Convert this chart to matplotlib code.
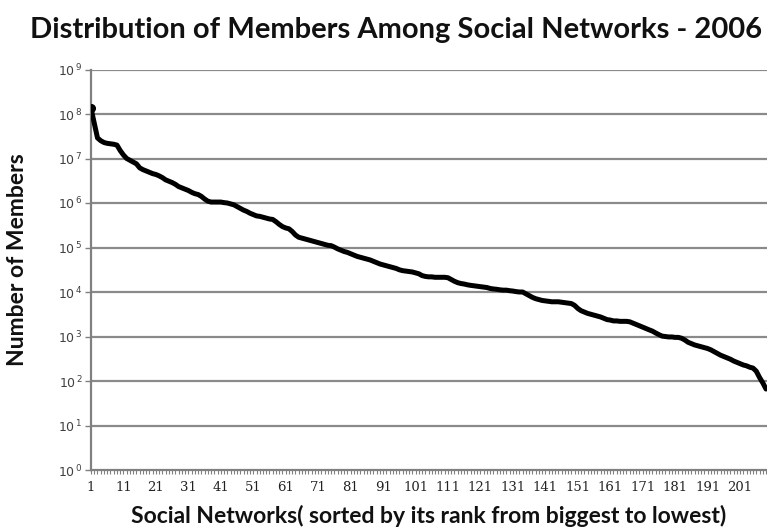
import matplotlib
matplotlib.use("Agg")
import matplotlib.pyplot as plt
from matplotlib.ticker import FixedLocator, FixedFormatter, NullFormatter

# Data: members of each social network, ranked from biggest to lowest (2006)
ranks = list(range(1, 210))
members = [
    135000000, 63000000, 29000000, 25100000, 22900000, 21900000, 21400000, 20900000, 20000000, 15100000,
    12000000, 10000000, 9120000, 8320000, 7590000, 6170000, 5620000, 5250000, 4900000, 4570000,
    4370000, 4070000, 3720000, 3310000, 3090000, 2880000, 2630000, 2340000, 2190000, 2040000,
    1910000, 1740000, 1620000, 1550000, 1410000, 1230000, 1100000, 1050000, 1050000, 1050000,
    1050000, 1020000, 1000000, 955000, 912000, 832000, 759000, 692000, 646000, 589000,
    550000, 513000, 501000, 479000, 457000, 437000, 427000, 380000, 331000, 295000,
    275000, 263000, 229000, 191000, 170000, 162000, 155000, 148000, 141000, 135000,
    129000, 123000, 117000, 112000, 110000, 102000, 93300, 87100, 81300, 77600,
    72400, 67600, 63100, 60300, 57500, 55000, 52500, 49000, 45700, 42700,
    40700, 38900, 37200, 35500, 33900, 31600, 30200, 29500, 28800, 28200,
    26900, 25700, 23400, 22400, 21900, 21900, 21400, 21400, 21400, 21400,
    20900, 19100, 17400, 16200, 15500, 15100, 14500, 14100, 13800, 13500,
    13200, 12900, 12600, 12000, 11700, 11500, 11200, 11000, 11000, 10700,
    10500, 10200, 10000, 10000, 9120, 8320, 7590, 7080, 6760, 6460,
    6310, 6170, 6030, 6030, 6030, 5890, 5750, 5620, 5500, 5010,
    4270, 3800, 3550, 3310, 3160, 3020, 2880, 2750, 2570, 2400,
    2340, 2240, 2240, 2190, 2190, 2190, 2140, 2000, 1860, 1740,
    1620, 1510, 1410, 1320, 1200, 1100, 1020, 1000, 977, 977,
    955, 955, 912, 832, 741, 692, 646, 617, 589, 562,
    537, 501, 457, 417, 380, 355, 331, 309, 282, 263,
    245, 229, 219, 204, 195, 166, 120, 91, 66,
]
x_tick_labels = [str(v) for v in range(1, 202, 10)]
y_exponents = list(range(0, 10))

title = "Distribution of Members Among Social Networks - 2006"
xlabel = "Social Networks( sorted by its rank from biggest to lowest)"
ylabel = "Number of Members"

W, H = 767, 529
fig = plt.figure(figsize=(W / 100, H / 100), dpi=100)
fig.patch.set_facecolor("white")

left, right, top, bottom = 91, 767, 69.5, 470
ax = fig.add_axes([left / W, 1 - bottom / H, (right - left) / W, (bottom - top) / H])

ax.plot(ranks, members, color="black", linewidth=3.6, solid_capstyle="round",
        solid_joinstyle="round", zorder=3)
ax.plot(ranks[0], members[0], "o", color="black", markersize=5.5, zorder=4)

ax.set_yscale("log")
ax.set_ylim(1, 1e9)
ax.set_xlim(1, 209.3)

# y ticks
yt = [10.0 ** e for e in y_exponents]
ax.yaxis.set_major_locator(FixedLocator(yt))
ax.yaxis.set_major_formatter(FixedFormatter(["10$^{\\,%d}$" % e for e in y_exponents]))
ax.yaxis.set_minor_locator(FixedLocator([]))
ax.yaxis.set_minor_formatter(NullFormatter())
ax.tick_params(axis="y", which="major", direction="out", length=4, width=1,
               color="#808080", labelsize=9, labelcolor="#404040", pad=2)

# x ticks
ax.xaxis.set_major_locator(FixedLocator(list(range(1, 202, 10))))
ax.xaxis.set_major_formatter(FixedFormatter(x_tick_labels))
ax.xaxis.set_minor_locator(FixedLocator(ranks))
ax.tick_params(axis="x", which="both", direction="out", length=3, width=0.8,
               color="#808080", labelsize=9.5, labelcolor="#222222", pad=5)
for lab in ax.get_xticklabels():
    lab.set_fontfamily("DejaVu Serif")

# grid
for e in y_exponents[1:]:
    ax.axhline(10.0 ** e, color="#8a8a8a", linewidth=1.6, zorder=1)

for s in ["top", "right"]:
    ax.spines[s].set_visible(False)
for s in ["left", "bottom"]:
    ax.spines[s].set_color("#808080")
    ax.spines[s].set_linewidth(1.6)

fig.text(396 / W, 1 - 30 / H, title, ha="center", va="center", fontsize=21,
         fontweight="bold", family="Lato", color="#111111")
fig.text(429 / W, 1 - 516 / H, xlabel, ha="center", va="center", fontsize=16.5,
         fontweight="bold", family="Lato", color="#111111")
fig.text(18 / W, 1 - 260 / H, ylabel, ha="center", va="center", rotation=90,
         fontsize=16.5, fontweight="bold", family="Lato", color="#111111")

fig.savefig("out.png", dpi=100, facecolor="white")
